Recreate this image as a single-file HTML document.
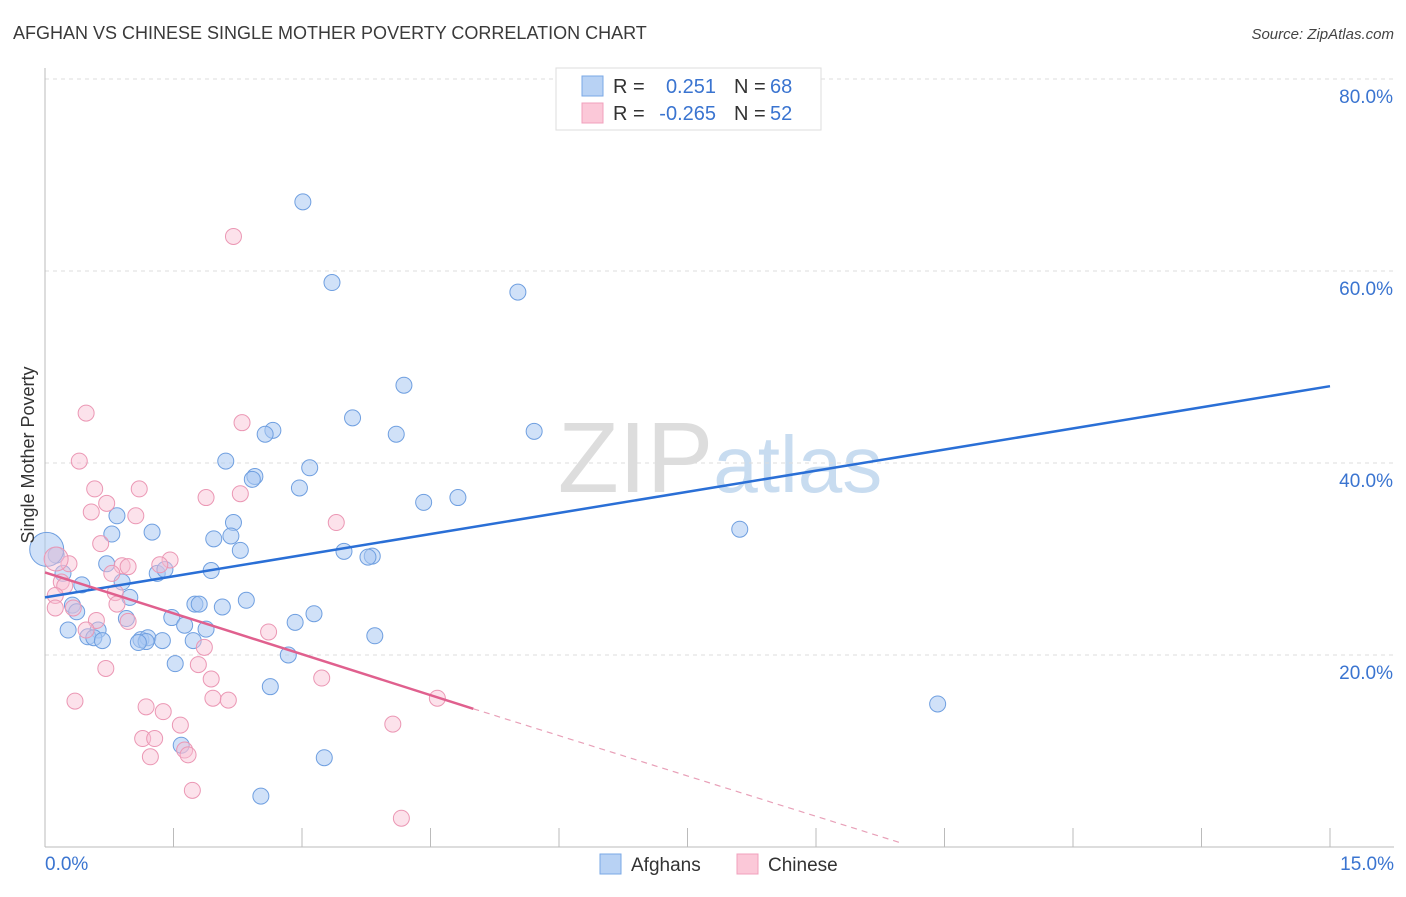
<!DOCTYPE html>
<html><head><meta charset="utf-8"><style>
body{margin:0;background:#fff;font-family:"Liberation Sans",sans-serif;}
svg text{font-family:"Liberation Sans",sans-serif;}
</style></head><body>
<svg id="chart" width="1406" height="892" xmlns="http://www.w3.org/2000/svg">
<text x="13" y="39" font-size="18" fill="#3a3a3a">AFGHAN VS CHINESE SINGLE MOTHER POVERTY CORRELATION CHART</text>
<text x="1394" y="39" font-size="15" fill="#444" font-style="italic" text-anchor="end">Source: ZipAtlas.com</text>
<text x="720" y="492" font-size="100" fill="#ddd" text-anchor="middle" font-family="Liberation Serif">ZIP<tspan fill="#c8dcf0" font-family="Liberation Sans" font-size="80">atlas</tspan></text>
<g id="grid"></g>
<g id="axes"></g>
<g id="pts"></g>
<g id="lines"></g>
<text transform="translate(34,455) rotate(-90)" font-size="18" fill="#333" text-anchor="middle">Single Mother Poverty</text>
<g>
<rect x="556" y="68" width="265" height="62" fill="#fff" stroke="#ddd"/>
<rect x="582" y="76" width="21" height="20" fill="#b8d2f4" stroke="#7aa8e6"/>
<rect x="582" y="103" width="21" height="20" fill="#fbc8d8" stroke="#f0a0bc"/>
<text x="613" y="93" font-size="20" fill="#333">R =</text>
<text x="716" y="93" font-size="20" fill="#3a74d0" text-anchor="end">0.251</text>
<text x="734" y="93" font-size="20" fill="#333">N =</text>
<text x="770" y="93" font-size="20" fill="#3a74d0">68</text>
<text x="613" y="120" font-size="20" fill="#333">R =</text>
<text x="716" y="120" font-size="20" fill="#3a74d0" text-anchor="end">-0.265</text>
<text x="734" y="120" font-size="20" fill="#333">N =</text>
<text x="770" y="120" font-size="20" fill="#3a74d0">52</text>
</g>
<g>
<rect x="600" y="854" width="21" height="20" fill="#b8d2f4" stroke="#7aa8e6"/>
<text x="631" y="871" font-size="19" fill="#333">Afghans</text>
<rect x="737" y="854" width="21" height="20" fill="#fbc8d8" stroke="#f0a0bc"/>
<text x="768" y="871" font-size="19" fill="#333">Chinese</text>
</g>
</svg>
<script>
const yTicks=[20,40,60,80];
const yTickLabels=["20.0%","40.0%","60.0%","80.0%"];
const xTickCount=10;
const afghanX=[3.01,3.35,5.52,4.19,3.59,2.66,2.57,4.10,5.71,2.11,3.09,2.45,2.42,2.97,4.42,4.82,0.84,2.20,1.25,0.78,1.97,2.17,2.28,8.11,3.49,3.82,3.77,0.13,0.72,0.21,1.31,1.40,1.94,0.90,0.43,0.99,2.35,1.75,1.80,2.07,0.32,0.37,1.48,0.95,3.14,2.92,1.63,0.27,0.62,1.88,0.50,3.85,0.57,0.67,1.12,1.20,1.18,1.09,1.37,1.73,2.84,1.52,2.63,10.42,1.59,3.26,2.52,0.02];
const afghanY=[67.2,58.8,57.8,48.1,44.7,43.4,43.0,43.0,43.3,40.2,39.5,38.6,38.3,37.4,35.9,36.4,34.5,33.8,32.8,32.6,32.1,32.4,30.9,33.1,30.8,30.3,30.2,30.4,29.5,28.5,28.5,28.9,28.8,27.6,27.3,26.0,25.7,25.3,25.3,25.0,25.2,24.5,23.9,23.8,24.3,23.4,23.1,22.6,22.6,22.7,21.9,22.0,21.8,21.5,21.6,21.8,21.4,21.3,21.5,21.5,20.0,19.1,16.7,14.9,10.6,9.3,5.3,31.0];
const chineseX=[2.20,0.48,2.30,0.40,0.58,1.10,1.88,2.28,0.72,0.54,1.06,3.40,0.65,1.46,0.28,0.90,0.97,1.34,0.78,0.19,0.23,0.82,0.12,0.84,0.33,0.12,0.60,0.97,0.48,2.61,1.86,1.79,0.71,3.23,1.94,1.96,2.14,4.58,0.35,1.18,1.38,1.58,4.06,1.14,1.28,1.63,1.67,1.23,1.72,4.16,0.13];
const chineseY=[63.6,45.2,44.2,40.2,37.3,37.3,36.4,36.8,35.8,34.9,34.5,33.8,31.6,29.9,29.5,29.3,29.2,29.4,28.5,27.6,27.2,26.5,26.2,25.3,24.9,24.9,23.6,23.5,22.6,22.4,20.8,19.0,18.6,17.6,17.5,15.5,15.3,15.5,15.2,14.6,14.1,12.7,12.8,11.3,11.3,10.1,9.6,9.4,5.9,3.0,30.0];
const afghanTrend=[0,26.0,15,48.0];
const chineseTrend=[0,28.6,5,14.4,10,0.4];
const X0=45,X1=1330,Y0=847,PXY=9.6;
const xs=v=>X0+v*(X1-X0)/15, ys=v=>Y0-v*PXY;
const NS="http://www.w3.org/2000/svg";
function mk(t,a,p){const e=document.createElementNS(NS,t);for(const k in a)e.setAttribute(k,a[k]);document.getElementById(p).appendChild(e);return e;}
yTicks.forEach((t,i)=>{
 const g=mk('line',{x1:45,x2:1394,y1:ys(t),y2:ys(t),stroke:'#ddd','stroke-dasharray':'4,4'},'grid');
 
 
 const l=mk('text',{x:1393,y:ys(t)+24,'font-size':19,fill:'#3a74d0','text-anchor':'end'},'axes');
 l.textContent=yTickLabels[i];
 
 
});
const ax=mk('line',{x1:45,x2:45,y1:68,y2:847,stroke:'#bbb'},'axes');


const bx=mk('line',{x1:45,x2:1394,y1:847,y2:847,stroke:'#bbb'},'axes');


for(let i=0;i<=xTickCount;i++){
 const t=mk('line',{x1:xs(i*1.5),x2:xs(i*1.5),y1:828,y2:847,stroke:'#bbb'},'axes');
 
 
}
const xl0=mk('text',{x:45,y:870,'font-size':19,fill:'#3a74d0'},'axes');xl0.textContent='0.0%';


const xl1=mk('text',{x:1394,y:870,'font-size':19,fill:'#3a74d0','text-anchor':'end'},'axes');xl1.textContent='15.0%';


afghanX.forEach((v,i)=>{
 const last=i===afghanX.length-1;
 const c=mk('circle',{cx:xs(v),cy:ys(afghanY[i]),r:last?17:8,fill:'#a9c8f2','fill-opacity':0.55,stroke:'#6f9fe0','stroke-width':1},'pts');
 
 
});
chineseX.forEach((v,i)=>{
 const last=i===chineseX.length-1;
 const c=mk('circle',{cx:xs(v),cy:ys(chineseY[i]),r:last?12:8,fill:'#f8bfd2','fill-opacity':0.45,stroke:'#eb97b4','stroke-width':1},'pts');
 
 
});
const bl=mk('line',{x1:xs(afghanTrend[0]),y1:ys(afghanTrend[1]),x2:xs(afghanTrend[2]),y2:ys(afghanTrend[3]),stroke:'#2a6fd6','stroke-width':2.5},'lines');


const pl=mk('line',{x1:xs(chineseTrend[0]),y1:ys(chineseTrend[1]),x2:xs(chineseTrend[2]),y2:ys(chineseTrend[3]),stroke:'#e0608e','stroke-width':2.5},'lines');


const pd=mk('line',{x1:xs(chineseTrend[2]),y1:ys(chineseTrend[3]),x2:xs(chineseTrend[4]),y2:ys(chineseTrend[5]),stroke:'#e8a0b8','stroke-width':1.2,'stroke-dasharray':'6,5'},'lines');


</script>
</body></html>
